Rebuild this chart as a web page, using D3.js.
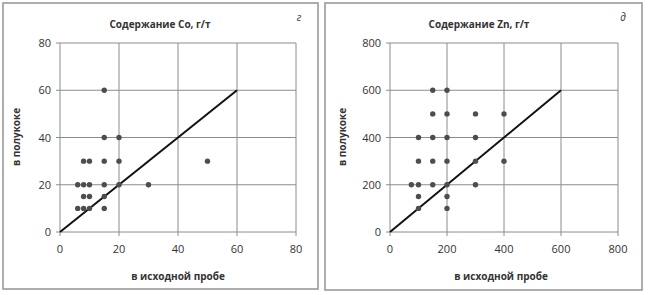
<!DOCTYPE html>
<html>
<head>
<meta charset="utf-8">
<script src="https://cdn.jsdelivr.net/npm/d3@7"></script>
<style>
  body { margin: 0; background: #fff; }
  text { font-family: "Open Sans", "DejaVu Sans", sans-serif; fill: #333; }
</style>
</head>
<body>
<div id="chart"></div>
<script>
// Co, g/t
const coX = [15, 15, 20, 8, 10, 15, 20, 6, 8, 10, 15, 20, 30, 50, 8, 10, 15, 6, 8, 10, 15];
const coY = [60, 40, 40, 30, 30, 30, 30, 20, 20, 20, 20, 20, 20, 30, 15, 15, 15, 10, 10, 10, 10];
const coTicks = [0, 20, 40, 60, 80];
const coLine = [0, 60];

// Zn, g/t
const znX = [150, 200, 150, 200, 300, 400, 100, 150, 200, 300, 100, 150, 200, 300, 400, 75, 100, 150, 200, 300, 100, 200, 100, 200];
const znY = [600, 600, 500, 500, 500, 500, 400, 400, 400, 400, 300, 300, 300, 300, 300, 200, 200, 200, 200, 200, 150, 150, 100, 100];
const znTicks = [0, 200, 400, 600, 800];
const znLine = [0, 600];

const svg = d3.select("#chart").append("svg")
    .attr("width", 649)
    .attr("height", 295);

function panel(opt) {
    const g = svg.append("g");

    // frame
    g.append("rect")
        .attr("x", opt.box[0]).attr("y", opt.box[1])
        .attr("width", opt.box[2]).attr("height", opt.box[3])
        .attr("fill", "#fff")
        .attr("stroke", "#9a9a9a")
        .attr("stroke-width", 1.6);

    const max = opt.ticks[opt.ticks.length - 1];
    const x = d3.scaleLinear().domain([0, max]).range([opt.left, opt.right]);
    const y = d3.scaleLinear().domain([0, max]).range([232, 43]);

    // grid
    g.selectAll(".gx").data(opt.ticks).enter().append("line")
        .attr("x1", d => x(d)).attr("x2", d => x(d))
        .attr("y1", y(max)).attr("y2", y(0) + 4)
        .attr("stroke", "#8c8c8c").attr("stroke-width", 1);
    g.selectAll(".gy").data(opt.ticks).enter().append("line")
        .attr("x1", x(0) - 4).attr("x2", x(max))
        .attr("y1", d => y(d)).attr("y2", d => y(d))
        .attr("stroke", "#8c8c8c").attr("stroke-width", 1);

    // tick labels
    g.selectAll(".tx").data(opt.ticks).enter().append("text")
        .attr("x", d => x(d)).attr("y", 253)
        .attr("text-anchor", "middle")
        .style("font-size", "11px")
        .text(d => d);
    g.selectAll(".ty").data(opt.ticks).enter().append("text")
        .attr("x", x(0) - 9).attr("y", d => y(d) + 4)
        .attr("text-anchor", "end")
        .style("font-size", "11px")
        .text(d => d);

    // 1:1 line
    g.append("line")
        .attr("x1", x(opt.line[0])).attr("y1", y(opt.line[0]))
        .attr("x2", x(opt.line[1])).attr("y2", y(opt.line[1]))
        .attr("stroke", "#111").attr("stroke-width", 2);

    // points
    g.selectAll(".pt").data(opt.xs).enter().append("circle")
        .attr("cx", d => x(d))
        .attr("cy", (d, i) => y(opt.ys[i]))
        .attr("r", 2.7)
        .attr("fill", "#4d4d4d");

    // texts
    g.append("text")
        .attr("x", opt.titleX).attr("y", 28)
        .attr("text-anchor", "middle")
        .style("font-size", "10px").style("font-weight", "bold")
        .text(opt.title);
    g.append("text")
        .attr("x", opt.letterX).attr("y", 21)
        .attr("text-anchor", "middle")
        .style("font-size", "10px").style("font-style", "italic")
        .text(opt.letter);
    g.append("text")
        .attr("x", opt.xLabelX).attr("y", 280)
        .attr("text-anchor", "middle")
        .style("font-size", "10px").style("font-weight", "bold")
        .text("в исходной пробе");
    g.append("text")
        .attr("transform", `translate(${opt.yLabelX},137) rotate(-90)`)
        .attr("text-anchor", "middle")
        .style("font-size", "10px").style("font-weight", "bold")
        .text("в полукоке");
}

panel({
    box: [3, 3, 315, 286],
    left: 60, right: 296,
    ticks: coTicks, xs: coX, ys: coY, line: coLine,
    title: "Содержание Co, г/т", titleX: 160, letter: "г", letterX: 299,
    xLabelX: 178, yLabelX: 20
});

panel({
    box: [325, 3, 317, 287],
    left: 390, right: 618,
    ticks: znTicks, xs: znX, ys: znY, line: znLine,
    title: "Содержание Zn, г/т", titleX: 479, letter: "д", letterX: 623,
    xLabelX: 501, yLabelX: 346
});
</script>
</body>
</html>
